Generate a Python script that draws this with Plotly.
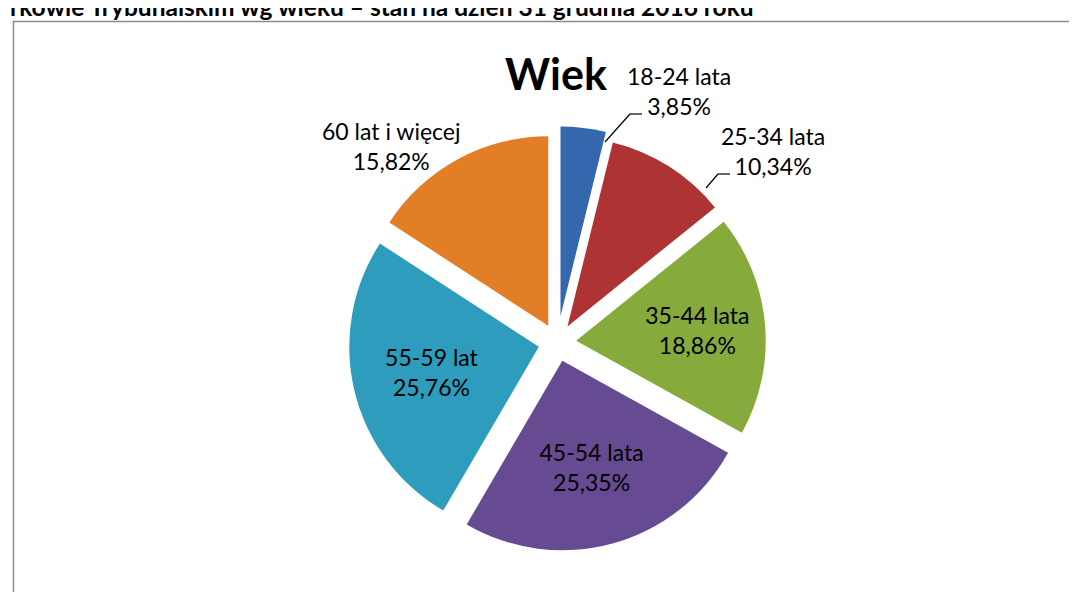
import plotly.graph_objects as go

# Data
categories = ["18-24 lata", "25-34 lata", "35-44 lata", "45-54 lata", "55-59 lat", "60 lat i więcej"]
shares = [3.85, 10.34, 18.86, 25.35, 25.76, 15.82]
slice_colors = ["#3467AE", "#AE3434", "#86AA3C", "#674B92", "#2E9CBC", "#E27E26"]
inside_labelled = [False, False, True, True, True, False]
header_text = "rkowie Trybunalskim wg wieku – stan na dzień 31 grudnia 2016 roku"
chart_title = "Wiek"

W, H = 1077, 592
FONT = "Lato, Open Sans, sans-serif"


def fmt(cat, v):
    return f"{cat}<br>{v:.2f}%".replace(".", ",")


def px(x):
    return x / W


def py(y):
    return 1 - y / H


fig = go.Figure()
fig.add_trace(go.Pie(
    labels=categories,
    values=shares,
    sort=False,
    direction="clockwise",
    rotation=0,
    pull=[0.14, 0.1, 0.1, 0.1, 0.1, 0.1],
    marker=dict(colors=slice_colors, line=dict(width=0)),
    text=[fmt(c, v) if ins else "" for c, v, ins in zip(categories, shares, inside_labelled)],
    textinfo="text",
    textposition="inside",
    insidetextorientation="horizontal",
    textfont=dict(family=FONT, size=23, color="#000000"),
    hoverinfo="label+value",
    showlegend=False,
    domain=dict(x=[0.26, 0.76], y=[0.07, 0.80]),
))

# outside labels (placed as in the reference)
outside_pos = {0: (671, 83), 1: (765, 143), 5: (383, 138)}
annotations = []
for i, (xp, yp) in outside_pos.items():
    annotations.append(dict(
        text=fmt(categories[i], shares[i]), xref="paper", yref="paper",
        x=px(xp), y=py(yp), xanchor="center", yanchor="middle", showarrow=False,
        font=dict(family=FONT, size=23, color="#000000"), align="center",
    ))

annotations.append(dict(
    text="<b>" + header_text + "</b>",
    xref="paper", yref="paper", x=0, y=py(-2),
    xanchor="left", yanchor="middle", showarrow=False,
    font=dict(family=FONT, size=24.5, color="#000000"),
))

leader_paths = [
    [(597, 134), (622, 106), (634, 106)],
    [(698, 180), (710, 166), (722, 166)],
]
shapes = [dict(
    type="rect", xref="paper", yref="paper",
    x0=px(5.5), x1=1.02, y0=-0.02, y1=py(13.5),
    line=dict(color="#8c8c8c", width=1.5), fillcolor="rgba(0,0,0,0)", layer="below",
)]
for pts in leader_paths:
    for (xa, ya), (xb, yb) in zip(pts[:-1], pts[1:]):
        shapes.append(dict(type="line", xref="paper", yref="paper",
                           x0=px(xa), y0=py(ya), x1=px(xb), y1=py(yb),
                           line=dict(color="#000000", width=1.2)))

fig.update_layout(
    width=W, height=H,
    margin=dict(l=0, r=0, t=0, b=0),
    paper_bgcolor="white",
    plot_bgcolor="white",
    separators=", ",
    title=dict(
        text="<b>" + chart_title + "</b>",
        x=px(548), y=py(67), xanchor="center", yanchor="middle",
        font=dict(family=FONT, size=43, color="#000000"),
    ),
    shapes=shapes,
    annotations=annotations,
)

fig.write_html("out.html")
